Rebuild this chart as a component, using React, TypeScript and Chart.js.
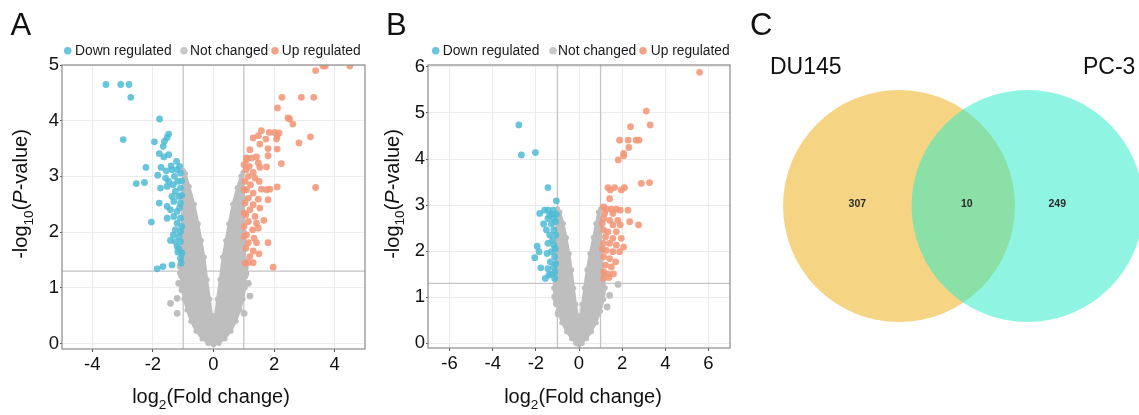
import React, { useEffect, useRef } from 'react';
import { Chart, registerables } from 'chart.js';

Chart.register(...registerables);

const FONT = "'Liberation Sans', Arial, Helvetica, sans-serif";
const BLUE = 'rgba(77,187,213,0.85)';
const RED = 'rgba(243,150,120,0.88)';
const GREY = '#bebebe';

const legendLabels = ['Down regulated', 'Not changed', 'Up regulated'];
const legendColors = [BLUE, '#c8c8c8', RED];
const fcThreshold = 1;
const pThreshold = 1.3;

// ---------- Panel A (DU145) ----------
const aXTicks = [-4, -2, 0, 2, 4];
const aYTicks = [0, 1, 2, 3, 4, 5];
const aDown: number[][] = [
  [-3.55, 4.65], [-3.06, 4.65], [-2.79, 4.65], [-2.73, 4.42], [-2.98, 3.66], [-1.78, 4.03],
  [-1.48, 3.76], [-1.53, 3.70], [-1.62, 3.63], [-1.95, 3.62], [-1.66, 3.54], [-1.79, 3.41],
  [-1.64, 3.35], [-1.48, 3.39], [-2.23, 3.16], [-2.55, 2.87], [-2.28, 2.89], [-1.84, 3.02],
  [-1.73, 3.16], [-1.56, 3.10], [-1.40, 3.19], [-1.22, 3.27], [-1.37, 3.12], [-1.20, 3.12],
  [-1.09, 3.06], [-1.29, 3.00], [-1.48, 2.91], [-1.53, 2.82], [-1.33, 2.85], [-1.18, 2.91],
  [-1.09, 2.79], [-1.26, 2.73], [-1.15, 2.64], [-1.37, 2.64], [-1.31, 2.55], [-1.09, 2.52],
  [-1.53, 2.46], [-1.79, 2.52], [-1.42, 2.40], [-1.20, 2.37], [-1.31, 2.28], [-1.53, 2.25],
  [-1.09, 2.25], [-2.05, 2.18], [-1.20, 2.16], [-1.26, 2.04], [-1.09, 2.01], [-1.33, 1.95],
  [-1.15, 1.92], [-1.42, 1.85], [-1.26, 1.83], [-1.09, 1.83], [-1.20, 1.74], [-1.18, 1.64],
  [-1.09, 1.53], [-1.37, 1.41], [-1.67, 1.38], [-1.86, 1.34], [-1.07, 1.44], [-1.58, 2.97],
  [-1.75, 2.79], [-1.12, 3.18], [-1.05, 2.92], [-1.05, 2.66], [-1.12, 2.44], [-1.05, 2.10],
  [-1.14, 1.70], [-1.04, 1.62],
];
const aUp: number[][] = [
  [3.61, 4.98], [3.69, 4.98], [3.37, 4.90], [4.50, 4.98], [2.26, 4.42], [2.90, 4.42],
  [3.31, 4.42], [2.11, 4.23], [2.46, 4.05], [2.51, 4.03], [2.62, 3.94], [1.58, 3.82],
  [1.84, 3.79], [2.02, 3.79], [2.16, 3.78], [2.10, 3.73], [1.48, 3.73], [1.31, 3.69],
  [1.73, 3.67], [1.53, 3.58], [1.80, 3.50], [2.08, 3.67], [2.10, 3.49], [3.20, 3.71],
  [2.82, 3.60], [2.24, 3.23], [1.20, 3.48], [1.09, 3.33], [1.26, 3.33], [1.42, 3.35],
  [1.01, 3.21], [1.18, 3.18], [1.48, 3.24], [1.53, 3.16], [1.75, 3.17], [1.80, 3.37],
  [1.07, 3.12], [1.31, 3.07], [1.15, 3.00], [1.37, 2.97], [1.04, 2.91], [1.51, 2.91],
  [1.22, 2.85], [1.09, 2.76], [1.58, 2.77], [1.75, 2.76], [1.86, 2.77], [2.10, 2.81],
  [3.37, 2.80], [1.31, 2.70], [1.15, 2.61], [1.48, 2.59], [1.80, 2.58], [1.04, 2.52],
  [1.31, 2.49], [1.20, 2.40], [1.53, 2.43], [1.07, 2.31], [1.37, 2.28], [1.66, 2.21],
  [1.15, 2.19], [1.42, 2.16], [1.01, 2.10], [1.29, 2.04], [1.48, 2.07], [1.09, 1.95],
  [1.34, 1.89], [1.15, 1.81], [1.42, 1.81], [1.80, 1.81], [1.07, 1.71], [1.31, 1.66],
  [1.20, 1.56], [1.50, 1.61], [1.15, 1.45], [1.31, 1.45], [1.97, 1.37], [1.04, 1.44],
  [1.01, 1.92], [1.01, 2.34], [1.01, 2.76], [1.09, 3.30],
];
const aNotOutline: number[][] = [
  [-1.00, 3.10], [-1.03, 2.60], [-1.04, 2.00], [-1.05, 1.50], [-1.08, 1.20], [-1.05, 1.00],
  [-0.98, 0.80], [-0.88, 0.60], [-0.75, 0.40], [-0.58, 0.22], [-0.38, 0.08], [-0.18, 0.00],
  [0.00, -0.03], [0.18, 0.00], [0.38, 0.08], [0.58, 0.22], [0.75, 0.40], [0.88, 0.60],
  [0.98, 0.80], [1.05, 1.00], [1.07, 1.20], [1.04, 1.50], [1.02, 2.00], [1.01, 2.60],
  [0.97, 3.07], [0.90, 3.00], [0.78, 2.80], [0.63, 2.50], [0.50, 2.15], [0.40, 1.85],
  [0.30, 1.55], [0.21, 1.15], [0.12, 0.80], [0.05, 0.50], [0.00, 0.32], [-0.05, 0.50],
  [-0.12, 0.80], [-0.21, 1.15], [-0.30, 1.55], [-0.40, 1.85], [-0.50, 2.15], [-0.63, 2.50],
  [-0.80, 2.82], [-0.92, 3.05], [-1.00, 3.10],
];
const aNotScatter: number[][] = [
  [-1.42, 0.72], [-1.20, 0.81], [-1.20, 0.54], [1.20, 0.85], [-1.09, 1.26], [-1.15, 1.08],
  [-1.04, 0.96], [1.07, 1.26], [1.15, 1.08], [1.01, 0.54], [-1.10, 1.38], [1.05, 1.36],
];

// ---------- Panel B (PC-3) ----------
const bXTicks = [-6, -4, -2, 0, 2, 4, 6];
const bYTicks = [0, 1, 2, 3, 4, 5, 6];
const bDown: number[][] = [
  [-2.79, 4.74], [-2.67, 4.09], [-2.02, 4.14], [-1.44, 3.38], [-1.05, 3.09], [-1.82, 2.82],
  [-1.59, 2.89], [-1.44, 2.89], [-1.20, 2.89], [-1.36, 2.78], [-1.05, 2.80], [-1.44, 2.71],
  [-1.17, 2.71], [-1.64, 2.59], [-1.28, 2.59], [-1.08, 2.64], [-1.51, 2.46], [-1.17, 2.46],
  [-1.36, 2.35], [-1.08, 2.35], [-1.23, 2.24], [-1.44, 2.17], [-1.17, 2.13], [-1.94, 2.11],
  [-1.85, 1.99], [-2.05, 1.86], [-1.48, 1.95], [-1.28, 1.99], [-1.13, 1.88], [-1.33, 1.77],
  [-1.77, 1.64], [-1.44, 1.62], [-1.17, 1.66], [-1.28, 1.51], [-1.56, 1.41], [-1.13, 1.41],
  [-1.40, 1.48], [-1.08, 1.73], [-1.10, 2.05], [-1.25, 2.80], [-1.12, 1.55],
];
const bUp: number[][] = [
  [5.59, 5.88], [3.12, 5.04], [3.30, 4.74], [2.39, 4.70], [1.88, 4.41], [2.28, 4.41],
  [2.65, 4.41], [2.78, 4.41], [2.31, 4.25], [2.07, 4.12], [2.07, 4.07], [1.82, 3.98],
  [2.89, 3.47], [3.27, 3.49], [1.34, 3.38], [1.65, 3.38], [1.45, 3.33], [2.11, 3.38],
  [1.96, 3.33], [1.42, 3.14], [1.14, 2.96], [1.27, 2.91], [1.50, 2.91], [1.73, 2.91],
  [1.91, 2.89], [2.27, 2.89], [1.19, 2.82], [1.57, 2.82], [1.14, 2.71], [1.42, 2.67],
  [1.80, 2.67], [2.35, 2.64], [2.76, 2.57], [1.91, 2.57], [1.57, 2.57], [1.14, 2.46],
  [1.34, 2.42], [1.73, 2.42], [1.23, 2.31], [1.57, 2.28], [1.96, 2.28], [1.14, 2.17],
  [1.42, 2.17], [1.73, 2.13], [2.07, 2.09], [1.27, 2.02], [1.57, 1.99], [1.88, 1.99],
  [1.14, 1.88], [1.42, 1.84], [1.70, 1.77], [1.23, 1.70], [1.50, 1.66], [1.14, 1.55],
  [1.34, 1.51], [1.60, 1.51], [1.14, 1.41], [1.39, 1.43], [1.08, 2.60], [1.08, 2.05],
];
const bNotOutline: number[][] = [
  [-1.00, 2.92], [-1.05, 2.50], [-1.08, 2.00], [-1.12, 1.50], [-1.18, 1.20], [-1.10, 0.95],
  [-0.98, 0.70], [-0.80, 0.45], [-0.58, 0.25], [-0.35, 0.10], [-0.15, 0.00], [0.00, -0.04],
  [0.15, 0.00], [0.35, 0.10], [0.58, 0.25], [0.80, 0.45], [1.00, 0.70], [1.15, 0.95],
  [1.22, 1.20], [1.12, 1.50], [1.06, 2.00], [1.03, 2.50], [1.00, 2.92], [0.90, 2.85],
  [0.78, 2.60], [0.66, 2.30], [0.50, 1.95], [0.36, 1.60], [0.24, 1.20], [0.14, 0.85],
  [0.06, 0.60], [0.00, 0.48], [-0.06, 0.60], [-0.14, 0.85], [-0.24, 1.20], [-0.34, 1.60],
  [-0.45, 1.95], [-0.58, 2.30], [-0.72, 2.60], [-0.88, 2.85], [-1.00, 2.92],
];
const bNotScatter: number[][] = [
  [1.81, 1.28], [1.42, 1.04], [1.30, 0.79], [-1.13, 1.01], [-1.05, 0.86], [-0.97, 0.64],
  [-0.85, 2.62], [-0.95, 2.80],
];

// ---------- Panel C (Venn) ----------
const vennSets = ['DU145', 'PC-3'];
const vennCenterX = [-0.554, 0.554];
const vennColors = ['rgba(236,176,30,0.55)', 'rgba(44,236,200,0.53)'];
const vennCounts = [307, 10, 249];

type Panel = {
  letter: string;
  down: number[][];
  up: number[][];
  notOutline: number[][];
  notScatter: number[][];
  xRange: number[];
  yRange: number[];
  xTicks: number[];
  yTicks: number[];
  yAxisWidth: number;
  xAxisHeight: number;
  padRight: number;
  letterX: number;
  legendCircleX: number[];
  legendTextX: number[];
  yTitleX: number;
  xTitleX: number;
};

function drawSubText(ctx: CanvasRenderingContext2D, parts: { t: string; sub?: boolean; it?: boolean }[], x: number, y: number, size: number) {
  const fontFor = (p: any) => `${p.it ? 'italic ' : ''}${p.sub ? size * 0.68 : size}px ${FONT}`;
  let w = 0;
  for (const p of parts) {
    ctx.font = fontFor(p);
    w += ctx.measureText(p.t).width;
  }
  let cx = x - w / 2;
  for (const p of parts) {
    ctx.font = fontFor(p);
    ctx.fillText(p.t, cx, p.sub ? y + size * 0.28 : y);
    cx += ctx.measureText(p.t).width;
  }
}

function volcanoConfig(p: Panel): any {
  const pts = (arr: number[][]) => arr.map(([x, y]) => ({ x, y }));
  const decor = {
    id: 'volcanoDecor',
    beforeDatasetsDraw(chart: any) {
      const { ctx, chartArea: a, scales } = chart;
      ctx.save();
      ctx.strokeStyle = '#c4c4c4';
      ctx.lineWidth = 1.3;
      ctx.beginPath();
      for (const v of [-fcThreshold, fcThreshold]) {
        const px = scales.x.getPixelForValue(v);
        ctx.moveTo(px, a.top);
        ctx.lineTo(px, a.bottom);
      }
      const py = scales.y.getPixelForValue(pThreshold);
      ctx.moveTo(a.left, py);
      ctx.lineTo(a.right, py);
      ctx.stroke();
      ctx.restore();
    },
    afterDatasetsDraw(chart: any) {
      const { ctx, chartArea: a } = chart;
      ctx.save();
      ctx.strokeStyle = '#8a8a8a';
      ctx.lineWidth = 1.2;
      ctx.strokeRect(a.left, a.top, a.right - a.left, a.bottom - a.top);
      ctx.restore();
    },
    afterDraw(chart: any) {
      const { ctx } = chart;
      ctx.save();
      ctx.fillStyle = '#111';
      ctx.font = `31px ${FONT}`;
      ctx.textAlign = 'left';
      ctx.textBaseline = 'alphabetic';
      ctx.fillText(p.letter, p.letterX, 35);
      ctx.textBaseline = 'middle';
      ctx.font = `13.8px ${FONT}`;
      legendLabels.forEach((lab, i) => {
        ctx.fillStyle = legendColors[i];
        ctx.beginPath();
        ctx.arc(p.legendCircleX[i], 50.7, 3.8, 0, Math.PI * 2);
        ctx.fill();
        ctx.fillStyle = '#1a1a1a';
        ctx.fillText(lab, p.legendTextX[i], 50.7);
      });
      ctx.textBaseline = 'alphabetic';
      ctx.fillStyle = '#111';
      drawSubText(ctx, [{ t: 'log' }, { t: '2', sub: true }, { t: '(Fold change)' }], p.xTitleX, 403, 20);
      ctx.save();
      ctx.translate(p.yTitleX, 194);
      ctx.rotate(-Math.PI / 2);
      drawSubText(ctx, [{ t: '-log' }, { t: '10', sub: true }, { t: '(' }, { t: 'P', it: true }, { t: '-value)' }], 0, 0, 20);
      ctx.restore();
      ctx.restore();
    },
  };
  const tickFont = { family: FONT, size: 18.5 };
  return {
    type: 'scatter',
    data: {
      datasets: [
        { label: 'Up regulated', order: 0, data: pts(p.up), backgroundColor: RED, pointRadius: 3.4, borderWidth: 0 },
        { label: 'Down regulated', order: 1, data: pts(p.down), backgroundColor: BLUE, pointRadius: 3.4, borderWidth: 0 },
        { label: 'Not changed', order: 2, data: pts(p.notScatter), backgroundColor: GREY, pointRadius: 3.4, borderWidth: 0 },
        {
          label: 'Not changed',
          order: 3,
          data: pts(p.notOutline),
          showLine: true,
          fill: 'shape',
          backgroundColor: GREY,
          borderColor: GREY,
          borderWidth: 2,
          borderJoinStyle: 'round',
          pointRadius: 2.5,
          pointBorderWidth: 0,
          tension: 0,
        },
      ],
    },
    options: {
      responsive: false,
      maintainAspectRatio: false,
      animation: false,
      events: [],
      layout: { padding: { left: 0, top: 65, right: p.padRight, bottom: 0 } },
      plugins: { legend: { display: false }, tooltip: { enabled: false } },
      scales: {
        x: {
          type: 'linear',
          min: p.xRange[0],
          max: p.xRange[1],
          afterBuildTicks: (s: any) => {
            s.ticks = p.xTicks.map((v) => ({ value: v }));
          },
          afterFit: (s: any) => {
            s.height = p.xAxisHeight;
          },
          grid: { color: '#ebebeb', lineWidth: 1, tickLength: 3, tickColor: '#555', drawTicks: true },
          border: { display: false },
          ticks: { font: tickFont, color: '#111', padding: 2, maxRotation: 0, autoSkip: false, callback: (v: any) => String(v) },
        },
        y: {
          type: 'linear',
          min: p.yRange[0],
          max: p.yRange[1],
          afterBuildTicks: (s: any) => {
            s.ticks = p.yTicks.map((v) => ({ value: v }));
          },
          afterFit: (s: any) => {
            s.width = p.yAxisWidth;
          },
          grid: { color: '#ebebeb', lineWidth: 1, tickLength: 2, tickColor: '#555', drawTicks: true },
          border: { display: false },
          ticks: { font: tickFont, color: '#111', padding: 1, autoSkip: false, callback: (v: any) => String(v) },
        },
      },
    },
    plugins: [decor],
  };
}

function vennConfig(): any {
  const unit = (chart: any) => chart.scales.x.getPixelForValue(1) - chart.scales.x.getPixelForValue(0);
  const countX = [-0.913, 0.03, 0.81];
  const decor = {
    id: 'vennDecor',
    afterDraw(chart: any) {
      const { ctx, scales } = chart;
      ctx.save();
      ctx.fillStyle = '#111';
      ctx.textAlign = 'left';
      ctx.textBaseline = 'alphabetic';
      ctx.font = `31px ${FONT}`;
      ctx.fillText('C', 10, 35);
      ctx.font = `23px ${FONT}`;
      ctx.fillText(vennSets[0], 30, 74);
      ctx.fillText(vennSets[1], 343, 74);
      ctx.font = `bold 10.5px ${FONT}`;
      ctx.fillStyle = '#2a2a2a';
      ctx.textAlign = 'center';
      ctx.textBaseline = 'middle';
      vennCounts.forEach((c, i) => {
        ctx.fillText(String(c), scales.x.getPixelForValue(countX[i]), scales.y.getPixelForValue(0.015));
      });
      ctx.restore();
    },
  };
  return {
    type: 'scatter',
    data: {
      datasets: vennSets.map((name, i) => ({
        label: name,
        order: vennSets.length - 1 - i,
        data: [{ x: vennCenterX[i], y: 0 }],
        backgroundColor: vennColors[i],
        borderWidth: 0,
        pointRadius: (ctx: any) => unit(ctx.chart),
      })),
    },
    options: {
      responsive: false,
      maintainAspectRatio: false,
      animation: false,
      events: [],
      layout: { padding: 0 },
      plugins: { legend: { display: false }, tooltip: { enabled: false } },
      scales: {
        x: { type: 'linear', display: false, min: -1.925, max: 1.515 },
        y: { type: 'linear', display: false, min: -1.802, max: 1.776 },
      },
    },
    plugins: [decor],
  };
}

function ChartCanvas({ left, width, build }: { left: number; width: number; build: () => any }) {
  const ref = useRef<HTMLCanvasElement>(null);
  useEffect(() => {
    const chart = new Chart(ref.current as HTMLCanvasElement, build());
    return () => chart.destroy();
  }, []);
  return (
    <canvas
      ref={ref}
      width={width}
      height={415}
      style={{ position: 'absolute', left, top: 0, width, height: 415, display: 'block' }}
    />
  );
}

const panelA: Panel = {
  letter: 'A',
  down: aDown,
  up: aUp,
  notOutline: aNotOutline,
  notScatter: aNotScatter,
  xRange: [-5, 5],
  yRange: [-0.1, 5.0],
  xTicks: aXTicks,
  yTicks: aYTicks,
  yAxisWidth: 62,
  xAxisHeight: 66,
  padRight: 15,
  letterX: 10.5,
  legendCircleX: [67.7, 184, 275],
  legendTextX: [75, 190, 281.7],
  yTitleX: 27,
  xTitleX: 211,
};

const panelB: Panel = {
  letter: 'B',
  down: bDown,
  up: bUp,
  notOutline: bNotOutline,
  notScatter: bNotScatter,
  xRange: [-7, 7],
  yRange: [-0.1, 6.04],
  xTicks: bXTicks,
  yTicks: bYTicks,
  yAxisWidth: 48,
  xAxisHeight: 67,
  padRight: 10,
  letterX: 6,
  legendCircleX: [55.7, 173, 263],
  legendTextX: [62.7, 178, 270.7],
  yTitleX: 18.5,
  xTitleX: 203,
};

export default function App() {
  return (
    <div style={{ position: 'fixed', left: 0, top: 0, width: 1139, height: 415, background: '#fff', overflow: 'hidden' }}>
      <ChartCanvas left={0} width={380} build={() => volcanoConfig(panelA)} />
      <ChartCanvas left={380} width={360} build={() => volcanoConfig(panelB)} />
      <ChartCanvas left={740} width={399} build={() => vennConfig()} />
    </div>
  );
}
